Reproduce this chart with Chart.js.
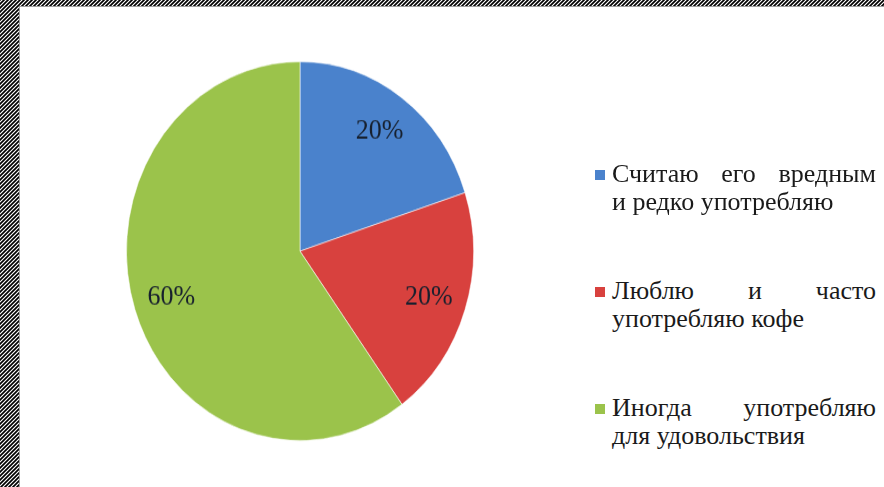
<!DOCTYPE html>
<html>
<head>
<meta charset="utf-8">
<script src="https://cdn.jsdelivr.net/npm/chart.js@4"></script>
<style>
html, body { margin: 0; padding: 0; }
body {
	width: 884px; height: 487px; overflow: hidden; position: relative;
	background-image: url("data:image/svg+xml,%3Csvg xmlns='http://www.w3.org/2000/svg' width='4' height='4'%3E%3Cpath d='M-1 1L1 -1M0 4L4 0M3 5L5 3' stroke='%23000' stroke-width='1.7'/%3E%3C/svg%3E");
	background-color: #fff;
}
#panel {
	position: absolute; left: 19px; top: 6px; right: 0; bottom: 0;
	background: #fff; border-left: 1px solid #a0a0a0; border-top: 1px solid #a0a0a0;
}
#pie { position: absolute; left: 0; top: 0; }
#legend {
	position: absolute; left: 612px; top: 160px; width: 264px;
	font-family: "Liberation Serif", "Times New Roman", serif;
	font-size: 26px; line-height: 28px; color: #1a1a1a;
}
.item { position: relative; margin-bottom: 61px; }
.first { text-align: justify; text-align-last: justify; }
.box {
	position: absolute; left: -17px; top: 10px; width: 10px; height: 10px;
}
</style>
</head>
<body>
<div id="panel"></div>
<canvas id="pie" width="600" height="446" style="width:600px;height:487px"></canvas>
<div id="legend"></div>
<script>
//Chart data
var labels = [['Считаю его вредным', 'и редко употребляю'], ['Люблю и часто', 'употребляю кофе'], ['Иногда употребляю', 'для удовольствия']];
var values = [20, 20, 60];
var colors = ['#4a82cc', '#d8413e', '#9bc34b'];

//Percent labels inside slices
var sliceLabels = {
	id: 'sliceLabels',
	afterDatasetsDraw: function(chart) {
		var ctx = chart.ctx;
		var meta = chart.getDatasetMeta(0);
		ctx.save();
		ctx.font = '26px "Liberation Serif", "Times New Roman", serif';
		ctx.fillStyle = '#17202e';
		ctx.textAlign = 'center';
		ctx.textBaseline = 'middle';
		meta.data.forEach(function(arc, i) {
			var mid = (arc.startAngle + arc.endAngle) / 2;
			var r = arc.outerRadius * 0.78;
			ctx.fillText(values[i] + '%', arc.x + Math.cos(mid) * r, arc.y + Math.sin(mid) * r);
		});
		ctx.restore();
	}
};

var piechart = new Chart(document.getElementById('pie'), {
	type: 'pie',
	data: {
		labels: labels.map(function(l) { return l.join(' '); }),
		datasets: [{
			data: values,
			backgroundColor: colors,
			borderColor: 'rgba(255,255,255,0.55)',
			borderWidth: 1
		}]
	},
	options: {
		responsive: false,
		animation: false,
		layout: {
			padding: {left: 126, right: 126, top: 56, bottom: 42}
		},
		plugins: {
			legend: {display: false},
			tooltip: {enabled: false}
		}
	},
	plugins: [sliceLabels]
});

//HTML legend, first line justified like the original
var legend = document.getElementById('legend');
labels.forEach(function(lines, i) {
	var item = document.createElement('div');
	item.className = 'item';
	var box = document.createElement('span');
	box.className = 'box';
	box.style.background = colors[i];
	item.appendChild(box);
	lines.forEach(function(line, j) {
		var row = document.createElement('div');
		if (j === 0) row.className = 'first';
		row.textContent = line;
		item.appendChild(row);
	});
	legend.appendChild(item);
});
</script>
</body>
</html>
